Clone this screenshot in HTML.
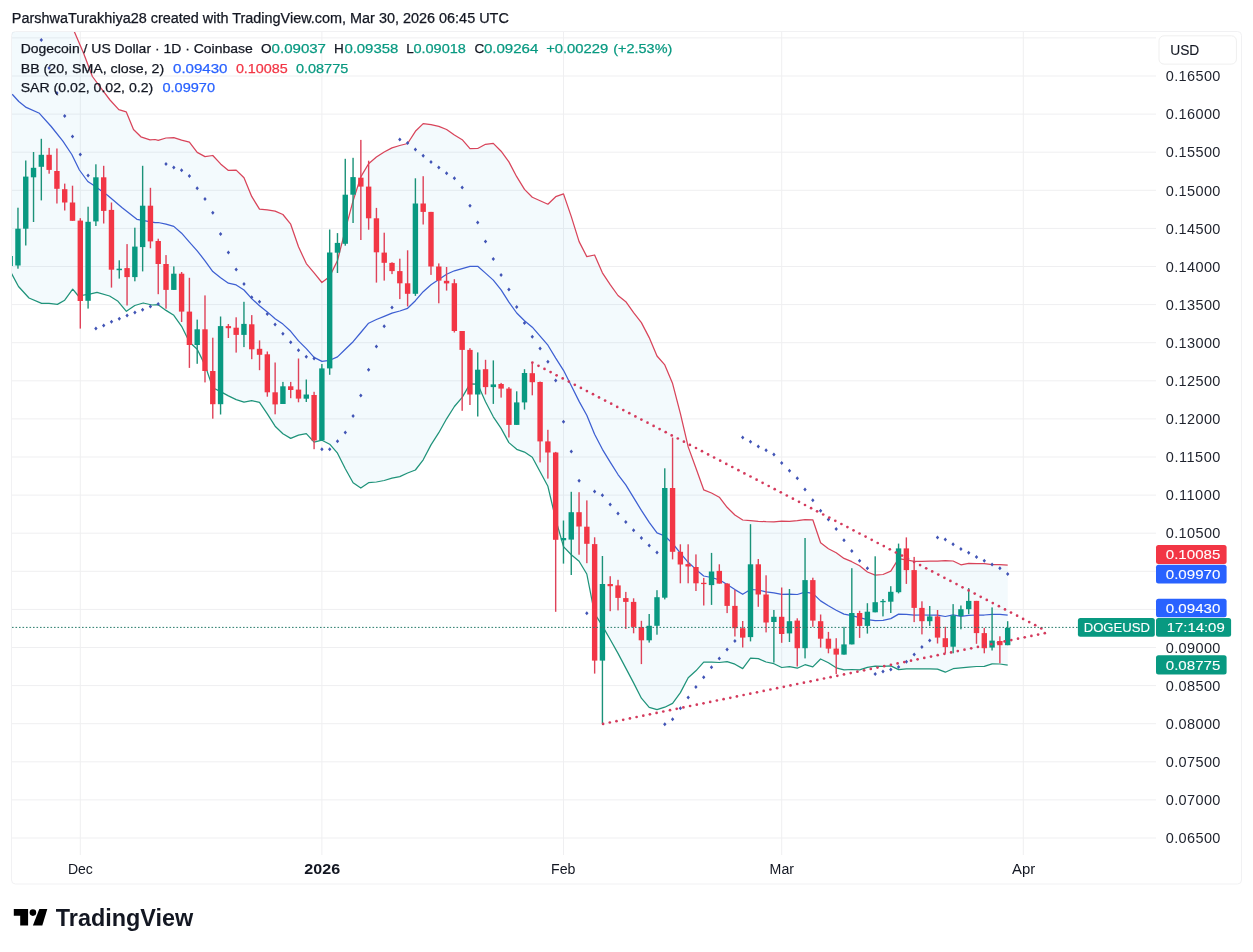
<!DOCTYPE html><html><head><meta charset="utf-8"><title>DOGEUSD</title><style>html,body{margin:0;padding:0;background:#ffffff;overflow:hidden}svg{display:block;will-change:transform}text{font-family:"Liberation Sans",sans-serif}</style></head><body>
<svg width="1253" height="952" viewBox="0 0 1253 952">
<rect x="0" y="0" width="1253" height="952" fill="#ffffff"/>
<text x="11.8" y="22.8" font-size="14" fill="#131722" stroke="#131722" stroke-width="0.25" textLength="497" lengthAdjust="spacingAndGlyphs">ParshwaTurakhiya28 created with TradingView.com, Mar 30, 2026 06:45 UTC</text>
<rect x="11.5" y="31.5" width="1230" height="852.5" rx="4" ry="4" fill="#ffffff" stroke="#f1f1f3" stroke-width="1"/>
<defs><clipPath id="pane"><rect x="12" y="32" width="1143" height="819"/></clipPath></defs>
<path d="M12,37.9H1156 M12,76.0H1156 M12,114.1H1156 M12,152.2H1156 M12,190.3H1156 M12,228.4H1156 M12,266.5H1156 M12,304.6H1156 M12,342.7H1156 M12,380.8H1156 M12,418.9H1156 M12,457.0H1156 M12,495.1H1156 M12,533.2H1156 M12,571.3H1156 M12,609.4H1156 M12,647.5H1156 M12,685.6H1156 M12,723.7H1156 M12,761.8H1156 M12,799.9H1156 M12,838.0H1156 M80.3,32V855 M321.9,32V855 M563.5,32V855 M781.7,32V855 M1023.3,32V855" stroke="#efeff1" stroke-width="1" fill="none"/>
<g clip-path="url(#pane)">
<path d="M11.0,20.0 L74.0,30.9 L83.5,53.0 L92.4,76.5 L101.2,88.3 L110.0,100.0 L118.8,109.6 L126.2,111.8 L133.5,129.5 L140.9,136.8 L150.0,139.8 L155.1,139.5 L158.2,140.3 L166.0,138.0 L173.8,137.6 L181.6,140.1 L189.4,142.1 L197.2,152.4 L205.0,156.6 L212.8,155.5 L220.6,163.9 L228.4,170.4 L236.2,170.1 L244.0,177.8 L251.7,196.4 L259.5,209.2 L267.3,209.8 L275.1,211.1 L282.9,214.5 L290.7,224.2 L298.5,246.8 L306.3,263.6 L314.1,272.8 L321.9,282.5 L329.7,276.4 L337.5,260.5 L345.3,229.8 L353.1,200.7 L360.8,176.9 L368.6,163.7 L376.4,157.1 L384.2,152.0 L392.0,147.9 L399.8,145.5 L407.6,143.5 L415.4,131.3 L423.2,123.6 L431.0,124.6 L438.8,126.3 L446.6,129.5 L454.4,135.0 L462.2,139.7 L470.0,148.6 L477.7,148.5 L485.5,144.3 L493.3,143.4 L501.1,151.2 L508.9,161.9 L516.7,176.7 L524.5,189.4 L532.3,197.2 L540.1,200.7 L547.9,204.2 L555.7,196.7 L563.5,193.9 L571.3,216.6 L579.1,241.6 L586.8,256.6 L594.6,255.0 L602.4,272.8 L610.2,284.7 L618.0,295.5 L625.8,301.7 L633.6,312.6 L641.4,322.6 L649.2,337.6 L657.0,356.0 L664.8,364.9 L672.6,383.6 L680.4,413.6 L688.2,446.9 L695.9,468.0 L703.7,489.8 L711.5,493.0 L719.3,497.2 L727.1,507.3 L734.9,515.0 L742.7,520.0 L750.5,520.7 L758.3,521.3 L766.1,521.7 L773.9,521.8 L781.7,521.2 L789.5,521.4 L797.3,520.7 L805.0,519.6 L812.8,519.8 L820.6,542.8 L828.4,548.7 L836.2,552.7 L844.0,558.4 L851.8,561.7 L859.6,565.7 L867.4,572.0 L875.2,575.1 L883.0,574.5 L890.8,571.2 L898.6,558.7 L906.4,559.9 L914.2,561.3 L921.9,561.3 L929.7,561.2 L937.5,561.1 L945.3,560.7 L953.1,561.0 L960.9,564.8 L968.7,563.4 L976.5,563.6 L984.3,563.6 L992.1,564.7 L999.9,564.7 L1007.7,565.1 L1007.7,665.1 L999.9,664.0 L992.1,663.9 L984.3,666.4 L976.5,666.5 L968.7,667.2 L960.9,667.8 L953.1,668.7 L945.3,672.2 L937.5,669.2 L929.7,668.8 L921.9,668.8 L914.2,668.9 L906.4,668.9 L898.6,669.6 L890.8,665.9 L883.0,666.3 L875.2,666.2 L867.4,667.4 L859.6,669.8 L851.8,669.5 L844.0,669.8 L836.2,667.8 L828.4,662.8 L820.6,659.0 L812.8,666.9 L805.0,664.7 L797.3,668.2 L789.5,666.7 L781.7,667.5 L773.9,663.7 L766.1,662.0 L758.3,658.7 L750.5,658.2 L742.7,668.6 L734.9,664.2 L727.1,661.7 L719.3,662.5 L711.5,662.1 L703.7,662.1 L695.9,670.8 L688.2,677.7 L680.4,692.6 L672.6,703.4 L664.8,707.2 L657.0,709.7 L649.2,707.3 L641.4,698.2 L633.6,682.9 L625.8,668.1 L618.0,653.4 L610.2,639.5 L602.4,625.9 L594.6,613.6 L586.8,574.0 L579.1,561.3 L571.3,554.8 L563.5,546.6 L555.7,519.4 L547.9,486.3 L540.1,471.7 L532.3,457.2 L524.5,452.1 L516.7,449.3 L508.9,442.6 L501.1,428.4 L493.3,416.8 L485.5,401.8 L477.7,384.2 L470.0,383.9 L462.2,397.4 L454.4,406.5 L446.6,418.8 L438.8,432.7 L431.0,444.9 L423.2,459.8 L415.4,470.0 L407.6,473.0 L399.8,476.6 L392.0,478.2 L384.2,480.5 L376.4,482.0 L368.6,482.7 L360.8,488.1 L353.1,482.8 L345.3,468.8 L337.5,453.2 L329.7,444.2 L321.9,440.2 L314.1,442.1 L306.3,433.6 L298.5,435.1 L290.7,438.4 L282.9,433.8 L275.1,426.2 L267.3,413.9 L259.5,402.3 L251.7,400.7 L244.0,402.1 L236.2,399.6 L228.4,395.9 L220.6,391.6 L212.8,387.7 L205.0,365.1 L197.2,349.2 L189.4,342.0 L181.6,326.3 L173.8,315.3 L166.0,310.4 L158.2,304.7 L152.0,305.0 L143.2,303.0 L134.8,305.5 L126.4,311.3 L118.0,301.3 L109.6,296.0 L97.0,292.4 L90.7,293.9 L78.4,296.0 L72.7,289.2 L64.7,300.2 L57.4,304.4 L49.0,303.3 L41.6,303.3 L29.0,298.0 L18.5,286.5 L11.2,272.9 Z" fill="#0f9bd7" fill-opacity="0.05" stroke="none"/>
<polyline points="74.0,30.9 83.5,53.0 92.4,76.5 101.2,88.3 110.0,100.0 118.8,109.6 126.2,111.8 133.5,129.5 140.9,136.8 150.0,139.8 155.1,139.5 158.2,140.3 166.0,138.0 173.8,137.6 181.6,140.1 189.4,142.1 197.2,152.4 205.0,156.6 212.8,155.5 220.6,163.9 228.4,170.4 236.2,170.1 244.0,177.8 251.7,196.4 259.5,209.2 267.3,209.8 275.1,211.1 282.9,214.5 290.7,224.2 298.5,246.8 306.3,263.6 314.1,272.8 321.9,282.5 329.7,276.4 337.5,260.5 345.3,229.8 353.1,200.7 360.8,176.9 368.6,163.7 376.4,157.1 384.2,152.0 392.0,147.9 399.8,145.5 407.6,143.5 415.4,131.3 423.2,123.6 431.0,124.6 438.8,126.3 446.6,129.5 454.4,135.0 462.2,139.7 470.0,148.6 477.7,148.5 485.5,144.3 493.3,143.4 501.1,151.2 508.9,161.9 516.7,176.7 524.5,189.4 532.3,197.2 540.1,200.7 547.9,204.2 555.7,196.7 563.5,193.9 571.3,216.6 579.1,241.6 586.8,256.6 594.6,255.0 602.4,272.8 610.2,284.7 618.0,295.5 625.8,301.7 633.6,312.6 641.4,322.6 649.2,337.6 657.0,356.0 664.8,364.9 672.6,383.6 680.4,413.6 688.2,446.9 695.9,468.0 703.7,489.8 711.5,493.0 719.3,497.2 727.1,507.3 734.9,515.0 742.7,520.0 750.5,520.7 758.3,521.3 766.1,521.7 773.9,521.8 781.7,521.2 789.5,521.4 797.3,520.7 805.0,519.6 812.8,519.8 820.6,542.8 828.4,548.7 836.2,552.7 844.0,558.4 851.8,561.7 859.6,565.7 867.4,572.0 875.2,575.1 883.0,574.5 890.8,571.2 898.6,558.7 906.4,559.9 914.2,561.3 921.9,561.3 929.7,561.2 937.5,561.1 945.3,560.7 953.1,561.0 960.9,564.8 968.7,563.4 976.5,563.6 984.3,563.6 992.1,564.7 999.9,564.7 1007.7,565.1" fill="none" stroke="#d8445a" stroke-width="1.25" stroke-linejoin="round"/>
<polyline points="11.2,272.9 18.5,286.5 29.0,298.0 41.6,303.3 49.0,303.3 57.4,304.4 64.7,300.2 72.7,289.2 78.4,296.0 90.7,293.9 97.0,292.4 109.6,296.0 118.0,301.3 126.4,311.3 134.8,305.5 143.2,303.0 152.0,305.0 158.2,304.7 166.0,310.4 173.8,315.3 181.6,326.3 189.4,342.0 197.2,349.2 205.0,365.1 212.8,387.7 220.6,391.6 228.4,395.9 236.2,399.6 244.0,402.1 251.7,400.7 259.5,402.3 267.3,413.9 275.1,426.2 282.9,433.8 290.7,438.4 298.5,435.1 306.3,433.6 314.1,442.1 321.9,440.2 329.7,444.2 337.5,453.2 345.3,468.8 353.1,482.8 360.8,488.1 368.6,482.7 376.4,482.0 384.2,480.5 392.0,478.2 399.8,476.6 407.6,473.0 415.4,470.0 423.2,459.8 431.0,444.9 438.8,432.7 446.6,418.8 454.4,406.5 462.2,397.4 470.0,383.9 477.7,384.2 485.5,401.8 493.3,416.8 501.1,428.4 508.9,442.6 516.7,449.3 524.5,452.1 532.3,457.2 540.1,471.7 547.9,486.3 555.7,519.4 563.5,546.6 571.3,554.8 579.1,561.3 586.8,574.0 594.6,613.6 602.4,625.9 610.2,639.5 618.0,653.4 625.8,668.1 633.6,682.9 641.4,698.2 649.2,707.3 657.0,709.7 664.8,707.2 672.6,703.4 680.4,692.6 688.2,677.7 695.9,670.8 703.7,662.1 711.5,662.1 719.3,662.5 727.1,661.7 734.9,664.2 742.7,668.6 750.5,658.2 758.3,658.7 766.1,662.0 773.9,663.7 781.7,667.5 789.5,666.7 797.3,668.2 805.0,664.7 812.8,666.9 820.6,659.0 828.4,662.8 836.2,667.8 844.0,669.8 851.8,669.5 859.6,669.8 867.4,667.4 875.2,666.2 883.0,666.3 890.8,665.9 898.6,669.6 906.4,668.9 914.2,668.9 921.9,668.8 929.7,668.8 937.5,669.2 945.3,672.2 953.1,668.7 960.9,667.8 968.7,667.2 976.5,666.5 984.3,666.4 992.1,663.9 999.9,664.0 1007.7,665.1" fill="none" stroke="#1f937a" stroke-width="1.25" stroke-linejoin="round"/>
<polyline points="12.2,94.2 18.8,101.5 26.2,107.4 39.4,113.3 51.2,126.5 62.9,141.2 71.8,154.5 79.4,170.0 87.8,181.5 92.8,184.7 107.5,195.2 122.2,207.8 136.9,219.3 155.1,222.6 158.2,222.5 166.0,224.2 173.8,226.4 181.6,233.2 189.4,242.1 197.2,250.8 205.0,260.8 212.8,271.6 220.6,277.8 228.4,283.2 236.2,284.9 244.0,290.0 251.7,298.6 259.5,305.8 267.3,311.9 275.1,318.7 282.9,324.1 290.7,331.3 298.5,340.9 306.3,348.6 314.1,357.4 321.9,361.4 329.7,360.3 337.5,356.9 345.3,349.3 353.1,341.7 360.8,332.5 368.6,323.2 376.4,319.5 384.2,316.3 392.0,313.1 399.8,311.0 407.6,308.3 415.4,300.7 423.2,291.7 431.0,284.8 438.8,279.5 446.6,274.2 454.4,270.8 462.2,268.6 470.0,266.3 477.7,266.3 485.5,273.1 493.3,280.1 501.1,289.8 508.9,302.2 516.7,313.0 524.5,320.7 532.3,327.2 540.1,336.2 547.9,345.2 555.7,358.1 563.5,370.3 571.3,385.7 579.1,401.4 586.8,415.3 594.6,434.3 602.4,449.3 610.2,462.1 618.0,474.5 625.8,484.9 633.6,497.7 641.4,510.4 649.2,522.4 657.0,532.9 664.8,536.0 672.6,543.5 680.4,553.1 688.2,562.3 695.9,569.4 703.7,576.0 711.5,577.5 719.3,579.8 727.1,584.5 734.9,589.6 742.7,594.3 750.5,589.5 758.3,590.0 766.1,591.8 773.9,592.8 781.7,594.4 789.5,594.1 797.3,594.5 805.0,592.2 812.8,593.4 820.6,600.9 828.4,605.7 836.2,610.2 844.0,614.1 851.8,615.6 859.6,617.7 867.4,619.7 875.2,620.7 883.0,620.4 890.8,618.6 898.6,614.1 906.4,614.4 914.2,615.1 921.9,615.0 929.7,615.0 937.5,615.2 945.3,616.5 953.1,614.8 960.9,616.3 968.7,615.3 976.5,615.0 984.3,615.0 992.1,614.3 999.9,614.3 1007.7,615.1" fill="none" stroke="#3d5fd2" stroke-width="1.25" stroke-linejoin="round"/>
<rect x="9.46" y="252.0" width="1.4" height="18.0" fill="#1b9279"/>
<rect x="7.46" y="256.0" width="5.4" height="10.0" fill="#089981"/>
<rect x="17.26" y="207.7" width="1.4" height="61.0" fill="#1b9279"/>
<rect x="15.26" y="228.7" width="5.4" height="36.8" fill="#089981"/>
<rect x="25.05" y="160.5" width="1.4" height="85.0" fill="#1b9279"/>
<rect x="23.05" y="176.6" width="5.4" height="52.1" fill="#089981"/>
<rect x="32.84" y="152.0" width="1.4" height="70.0" fill="#1b9279"/>
<rect x="30.84" y="167.8" width="5.4" height="9.5" fill="#089981"/>
<rect x="40.63" y="138.8" width="1.4" height="61.6" fill="#1b9279"/>
<rect x="38.63" y="154.8" width="5.4" height="12.0" fill="#089981"/>
<rect x="48.43" y="147.9" width="1.4" height="25.8" fill="#df4259"/>
<rect x="46.43" y="154.8" width="5.4" height="15.1" fill="#f23645"/>
<rect x="56.22" y="148.5" width="1.4" height="55.0" fill="#df4259"/>
<rect x="54.22" y="171.0" width="5.4" height="17.8" fill="#f23645"/>
<rect x="64.01" y="183.6" width="1.4" height="26.9" fill="#df4259"/>
<rect x="62.01" y="189.2" width="5.4" height="13.3" fill="#f23645"/>
<rect x="71.81" y="185.7" width="1.4" height="35.1" fill="#df4259"/>
<rect x="69.81" y="202.5" width="5.4" height="18.3" fill="#f23645"/>
<rect x="79.60" y="218.2" width="1.4" height="110.4" fill="#df4259"/>
<rect x="77.60" y="220.6" width="5.4" height="80.4" fill="#f23645"/>
<rect x="87.39" y="206.7" width="1.4" height="101.9" fill="#1b9279"/>
<rect x="85.39" y="221.8" width="5.4" height="79.0" fill="#089981"/>
<rect x="95.19" y="164.3" width="1.4" height="61.7" fill="#1b9279"/>
<rect x="93.19" y="177.3" width="5.4" height="44.1" fill="#089981"/>
<rect x="102.98" y="165.8" width="1.4" height="57.7" fill="#df4259"/>
<rect x="100.98" y="177.3" width="5.4" height="33.6" fill="#f23645"/>
<rect x="110.77" y="202.5" width="1.4" height="85.1" fill="#df4259"/>
<rect x="108.77" y="209.9" width="5.4" height="59.8" fill="#f23645"/>
<rect x="118.56" y="260.3" width="1.4" height="18.3" fill="#1b9279"/>
<rect x="116.56" y="268.7" width="5.4" height="1.5" fill="#089981"/>
<rect x="126.36" y="244.1" width="1.4" height="61.4" fill="#df4259"/>
<rect x="124.36" y="268.1" width="5.4" height="9.0" fill="#f23645"/>
<rect x="134.15" y="227.7" width="1.4" height="53.6" fill="#1b9279"/>
<rect x="132.15" y="246.6" width="5.4" height="30.5" fill="#089981"/>
<rect x="141.94" y="165.8" width="1.4" height="105.6" fill="#1b9279"/>
<rect x="139.94" y="205.7" width="5.4" height="41.4" fill="#089981"/>
<rect x="149.74" y="187.8" width="1.4" height="60.5" fill="#df4259"/>
<rect x="147.74" y="205.7" width="5.4" height="35.7" fill="#f23645"/>
<rect x="157.53" y="238.7" width="1.4" height="55.5" fill="#df4259"/>
<rect x="155.53" y="241.0" width="5.4" height="23.0" fill="#f23645"/>
<rect x="165.32" y="255.1" width="1.4" height="53.6" fill="#df4259"/>
<rect x="163.32" y="264.0" width="5.4" height="25.9" fill="#f23645"/>
<rect x="173.12" y="266.4" width="1.4" height="23.5" fill="#1b9279"/>
<rect x="171.12" y="273.7" width="5.4" height="16.2" fill="#089981"/>
<rect x="180.91" y="272.0" width="1.4" height="50.0" fill="#df4259"/>
<rect x="178.91" y="273.7" width="5.4" height="37.9" fill="#f23645"/>
<rect x="188.70" y="277.8" width="1.4" height="90.1" fill="#df4259"/>
<rect x="186.70" y="311.6" width="5.4" height="33.4" fill="#f23645"/>
<rect x="196.50" y="319.6" width="1.4" height="44.2" fill="#1b9279"/>
<rect x="194.50" y="329.3" width="5.4" height="15.7" fill="#089981"/>
<rect x="204.29" y="295.4" width="1.4" height="87.0" fill="#df4259"/>
<rect x="202.29" y="329.3" width="5.4" height="41.7" fill="#f23645"/>
<rect x="212.08" y="337.7" width="1.4" height="81.0" fill="#df4259"/>
<rect x="210.08" y="371.0" width="5.4" height="33.2" fill="#f23645"/>
<rect x="219.87" y="316.5" width="1.4" height="98.0" fill="#1b9279"/>
<rect x="217.87" y="326.1" width="5.4" height="78.1" fill="#089981"/>
<rect x="227.67" y="324.0" width="1.4" height="14.0" fill="#df4259"/>
<rect x="225.67" y="326.1" width="5.4" height="2.1" fill="#f23645"/>
<rect x="235.46" y="317.3" width="1.4" height="35.3" fill="#df4259"/>
<rect x="233.46" y="327.7" width="5.4" height="7.2" fill="#f23645"/>
<rect x="243.25" y="301.8" width="1.4" height="45.3" fill="#1b9279"/>
<rect x="241.25" y="323.9" width="5.4" height="11.0" fill="#089981"/>
<rect x="251.05" y="315.1" width="1.4" height="44.1" fill="#df4259"/>
<rect x="249.05" y="324.3" width="5.4" height="25.0" fill="#f23645"/>
<rect x="258.84" y="340.4" width="1.4" height="29.8" fill="#df4259"/>
<rect x="256.84" y="348.8" width="5.4" height="6.0" fill="#f23645"/>
<rect x="266.63" y="351.5" width="1.4" height="45.2" fill="#df4259"/>
<rect x="264.63" y="354.3" width="5.4" height="38.0" fill="#f23645"/>
<rect x="274.43" y="362.5" width="1.4" height="51.8" fill="#df4259"/>
<rect x="272.43" y="392.3" width="5.4" height="12.1" fill="#f23645"/>
<rect x="282.22" y="381.9" width="1.4" height="22.1" fill="#1b9279"/>
<rect x="280.22" y="386.3" width="5.4" height="17.7" fill="#089981"/>
<rect x="290.01" y="381.9" width="1.4" height="16.3" fill="#df4259"/>
<rect x="288.01" y="386.3" width="5.4" height="3.7" fill="#f23645"/>
<rect x="297.80" y="358.5" width="1.4" height="43.8" fill="#df4259"/>
<rect x="295.80" y="389.6" width="5.4" height="9.0" fill="#f23645"/>
<rect x="305.60" y="379.5" width="1.4" height="22.5" fill="#1b9279"/>
<rect x="303.60" y="394.5" width="5.4" height="4.2" fill="#089981"/>
<rect x="313.39" y="391.8" width="1.4" height="57.4" fill="#df4259"/>
<rect x="311.39" y="395.0" width="5.4" height="45.5" fill="#f23645"/>
<rect x="321.18" y="364.0" width="1.4" height="76.3" fill="#1b9279"/>
<rect x="319.18" y="368.4" width="5.4" height="71.9" fill="#089981"/>
<rect x="328.98" y="229.5" width="1.4" height="145.3" fill="#1b9279"/>
<rect x="326.98" y="252.5" width="5.4" height="115.9" fill="#089981"/>
<rect x="336.77" y="233.1" width="1.4" height="39.9" fill="#1b9279"/>
<rect x="334.77" y="242.9" width="5.4" height="9.8" fill="#089981"/>
<rect x="344.56" y="158.8" width="1.4" height="86.9" fill="#1b9279"/>
<rect x="342.56" y="194.7" width="5.4" height="49.1" fill="#089981"/>
<rect x="352.36" y="157.8" width="1.4" height="65.2" fill="#1b9279"/>
<rect x="350.36" y="177.1" width="5.4" height="17.6" fill="#089981"/>
<rect x="360.15" y="139.9" width="1.4" height="100.1" fill="#df4259"/>
<rect x="358.15" y="177.7" width="5.4" height="8.9" fill="#f23645"/>
<rect x="367.94" y="160.7" width="1.4" height="69.0" fill="#df4259"/>
<rect x="365.94" y="186.6" width="5.4" height="31.7" fill="#f23645"/>
<rect x="375.73" y="207.9" width="1.4" height="74.7" fill="#df4259"/>
<rect x="373.73" y="218.3" width="5.4" height="34.0" fill="#f23645"/>
<rect x="383.53" y="232.7" width="1.4" height="47.9" fill="#df4259"/>
<rect x="381.53" y="252.6" width="5.4" height="10.2" fill="#f23645"/>
<rect x="391.32" y="262.3" width="1.4" height="11.8" fill="#df4259"/>
<rect x="389.32" y="262.9" width="5.4" height="8.2" fill="#f23645"/>
<rect x="399.11" y="258.7" width="1.4" height="40.4" fill="#df4259"/>
<rect x="397.11" y="271.1" width="5.4" height="12.2" fill="#f23645"/>
<rect x="406.91" y="250.3" width="1.4" height="56.1" fill="#df4259"/>
<rect x="404.91" y="283.3" width="5.4" height="10.5" fill="#f23645"/>
<rect x="414.70" y="178.3" width="1.4" height="117.6" fill="#1b9279"/>
<rect x="412.70" y="203.5" width="5.4" height="90.3" fill="#089981"/>
<rect x="422.49" y="176.2" width="1.4" height="48.3" fill="#df4259"/>
<rect x="420.49" y="203.5" width="5.4" height="8.4" fill="#f23645"/>
<rect x="430.29" y="211.9" width="1.4" height="63.0" fill="#df4259"/>
<rect x="428.29" y="211.9" width="5.4" height="54.6" fill="#f23645"/>
<rect x="438.08" y="263.4" width="1.4" height="39.9" fill="#df4259"/>
<rect x="436.08" y="266.5" width="5.4" height="14.1" fill="#f23645"/>
<rect x="445.87" y="267.0" width="1.4" height="23.6" fill="#df4259"/>
<rect x="443.87" y="280.8" width="5.4" height="2.6" fill="#f23645"/>
<rect x="453.66" y="279.2" width="1.4" height="53.3" fill="#df4259"/>
<rect x="451.66" y="283.2" width="5.4" height="47.8" fill="#f23645"/>
<rect x="461.46" y="331.0" width="1.4" height="79.8" fill="#df4259"/>
<rect x="459.46" y="331.0" width="5.4" height="18.9" fill="#f23645"/>
<rect x="469.25" y="348.2" width="1.4" height="56.8" fill="#df4259"/>
<rect x="467.25" y="349.9" width="5.4" height="44.6" fill="#f23645"/>
<rect x="477.04" y="352.4" width="1.4" height="64.1" fill="#1b9279"/>
<rect x="475.04" y="369.7" width="5.4" height="24.8" fill="#089981"/>
<rect x="484.84" y="359.8" width="1.4" height="34.7" fill="#df4259"/>
<rect x="482.84" y="369.2" width="5.4" height="17.9" fill="#f23645"/>
<rect x="492.63" y="360.4" width="1.4" height="43.5" fill="#1b9279"/>
<rect x="490.63" y="384.4" width="5.4" height="2.7" fill="#089981"/>
<rect x="500.42" y="382.9" width="1.4" height="14.7" fill="#df4259"/>
<rect x="498.42" y="384.0" width="5.4" height="4.6" fill="#f23645"/>
<rect x="508.22" y="387.1" width="1.4" height="50.4" fill="#df4259"/>
<rect x="506.22" y="388.6" width="5.4" height="36.3" fill="#f23645"/>
<rect x="516.01" y="391.3" width="1.4" height="33.6" fill="#1b9279"/>
<rect x="514.01" y="402.4" width="5.4" height="22.5" fill="#089981"/>
<rect x="523.80" y="369.2" width="1.4" height="40.4" fill="#1b9279"/>
<rect x="521.80" y="373.0" width="5.4" height="29.4" fill="#089981"/>
<rect x="531.59" y="362.2" width="1.4" height="33.1" fill="#df4259"/>
<rect x="529.59" y="373.2" width="5.4" height="9.0" fill="#f23645"/>
<rect x="539.39" y="381.5" width="1.4" height="80.9" fill="#df4259"/>
<rect x="537.39" y="382.0" width="5.4" height="59.4" fill="#f23645"/>
<rect x="547.18" y="429.8" width="1.4" height="48.8" fill="#df4259"/>
<rect x="545.18" y="441.4" width="5.4" height="11.1" fill="#f23645"/>
<rect x="554.97" y="451.9" width="1.4" height="159.9" fill="#df4259"/>
<rect x="552.97" y="452.5" width="5.4" height="87.3" fill="#f23645"/>
<rect x="562.77" y="520.5" width="1.4" height="43.1" fill="#1b9279"/>
<rect x="560.77" y="538.0" width="5.4" height="2.3" fill="#089981"/>
<rect x="570.56" y="491.8" width="1.4" height="83.2" fill="#1b9279"/>
<rect x="568.56" y="512.2" width="5.4" height="27.4" fill="#089981"/>
<rect x="578.35" y="492.2" width="1.4" height="62.5" fill="#df4259"/>
<rect x="576.35" y="512.2" width="5.4" height="14.3" fill="#f23645"/>
<rect x="586.14" y="500.4" width="1.4" height="62.8" fill="#df4259"/>
<rect x="584.14" y="526.7" width="5.4" height="17.1" fill="#f23645"/>
<rect x="593.94" y="537.3" width="1.4" height="136.3" fill="#df4259"/>
<rect x="591.94" y="544.1" width="5.4" height="116.5" fill="#f23645"/>
<rect x="601.73" y="556.0" width="1.4" height="167.8" fill="#1b9279"/>
<rect x="599.73" y="584.0" width="5.4" height="76.6" fill="#089981"/>
<rect x="609.52" y="576.2" width="1.4" height="35.0" fill="#df4259"/>
<rect x="607.52" y="584.0" width="5.4" height="2.2" fill="#f23645"/>
<rect x="617.32" y="579.8" width="1.4" height="30.6" fill="#df4259"/>
<rect x="615.32" y="585.4" width="5.4" height="12.5" fill="#f23645"/>
<rect x="625.11" y="591.9" width="1.4" height="37.1" fill="#df4259"/>
<rect x="623.11" y="598.1" width="5.4" height="3.8" fill="#f23645"/>
<rect x="632.90" y="598.3" width="1.4" height="35.0" fill="#df4259"/>
<rect x="630.90" y="601.9" width="5.4" height="25.0" fill="#f23645"/>
<rect x="640.70" y="620.8" width="1.4" height="43.3" fill="#df4259"/>
<rect x="638.70" y="627.1" width="5.4" height="13.2" fill="#f23645"/>
<rect x="648.49" y="614.0" width="1.4" height="28.6" fill="#1b9279"/>
<rect x="646.49" y="625.8" width="5.4" height="14.5" fill="#089981"/>
<rect x="656.28" y="590.2" width="1.4" height="44.5" fill="#1b9279"/>
<rect x="654.28" y="597.2" width="5.4" height="28.6" fill="#089981"/>
<rect x="664.07" y="468.3" width="1.4" height="131.1" fill="#1b9279"/>
<rect x="662.07" y="488.0" width="5.4" height="109.7" fill="#089981"/>
<rect x="671.87" y="437.6" width="1.4" height="121.8" fill="#df4259"/>
<rect x="669.87" y="488.0" width="5.4" height="63.8" fill="#f23645"/>
<rect x="679.66" y="544.3" width="1.4" height="39.0" fill="#df4259"/>
<rect x="677.66" y="551.8" width="5.4" height="12.7" fill="#f23645"/>
<rect x="687.45" y="544.3" width="1.4" height="39.0" fill="#df4259"/>
<rect x="685.45" y="564.1" width="5.4" height="2.4" fill="#f23645"/>
<rect x="695.25" y="554.4" width="1.4" height="36.6" fill="#df4259"/>
<rect x="693.25" y="567.0" width="5.4" height="16.3" fill="#f23645"/>
<rect x="703.04" y="577.9" width="1.4" height="27.6" fill="#df4259"/>
<rect x="701.04" y="582.8" width="5.4" height="1.3" fill="#f23645"/>
<rect x="710.83" y="552.9" width="1.4" height="52.0" fill="#1b9279"/>
<rect x="708.83" y="571.5" width="5.4" height="13.6" fill="#089981"/>
<rect x="718.63" y="564.3" width="1.4" height="19.3" fill="#df4259"/>
<rect x="716.63" y="570.9" width="5.4" height="12.7" fill="#f23645"/>
<rect x="726.42" y="583.2" width="1.4" height="29.9" fill="#df4259"/>
<rect x="724.42" y="583.6" width="5.4" height="22.3" fill="#f23645"/>
<rect x="734.21" y="589.8" width="1.4" height="46.7" fill="#df4259"/>
<rect x="732.21" y="605.9" width="5.4" height="22.3" fill="#f23645"/>
<rect x="742.00" y="621.0" width="1.4" height="26.5" fill="#df4259"/>
<rect x="740.00" y="628.2" width="5.4" height="9.4" fill="#f23645"/>
<rect x="749.80" y="524.2" width="1.4" height="117.2" fill="#1b9279"/>
<rect x="747.80" y="564.3" width="5.4" height="72.8" fill="#089981"/>
<rect x="757.59" y="559.0" width="1.4" height="47.8" fill="#df4259"/>
<rect x="755.59" y="564.3" width="5.4" height="30.2" fill="#f23645"/>
<rect x="765.38" y="575.3" width="1.4" height="57.1" fill="#df4259"/>
<rect x="763.38" y="594.5" width="5.4" height="28.0" fill="#f23645"/>
<rect x="773.18" y="610.0" width="1.4" height="52.6" fill="#1b9279"/>
<rect x="771.18" y="616.8" width="5.4" height="5.2" fill="#089981"/>
<rect x="780.97" y="587.5" width="1.4" height="55.3" fill="#df4259"/>
<rect x="778.97" y="616.8" width="5.4" height="17.2" fill="#f23645"/>
<rect x="788.76" y="589.0" width="1.4" height="53.0" fill="#1b9279"/>
<rect x="786.76" y="621.2" width="5.4" height="12.2" fill="#089981"/>
<rect x="796.56" y="618.3" width="1.4" height="48.2" fill="#df4259"/>
<rect x="794.56" y="620.6" width="5.4" height="27.6" fill="#f23645"/>
<rect x="804.35" y="538.0" width="1.4" height="120.4" fill="#1b9279"/>
<rect x="802.35" y="580.1" width="5.4" height="68.1" fill="#089981"/>
<rect x="812.14" y="577.7" width="1.4" height="49.1" fill="#df4259"/>
<rect x="810.14" y="580.1" width="5.4" height="40.5" fill="#f23645"/>
<rect x="819.93" y="614.5" width="1.4" height="33.1" fill="#df4259"/>
<rect x="817.93" y="621.2" width="5.4" height="17.5" fill="#f23645"/>
<rect x="827.73" y="631.9" width="1.4" height="21.4" fill="#df4259"/>
<rect x="825.73" y="638.7" width="5.4" height="9.9" fill="#f23645"/>
<rect x="835.52" y="638.2" width="1.4" height="35.9" fill="#df4259"/>
<rect x="833.52" y="648.6" width="5.4" height="6.0" fill="#f23645"/>
<rect x="843.31" y="626.8" width="1.4" height="27.8" fill="#1b9279"/>
<rect x="841.31" y="644.4" width="5.4" height="10.2" fill="#089981"/>
<rect x="851.11" y="568.2" width="1.4" height="76.2" fill="#1b9279"/>
<rect x="849.11" y="613.0" width="5.4" height="31.4" fill="#089981"/>
<rect x="858.90" y="610.8" width="1.4" height="27.1" fill="#df4259"/>
<rect x="856.90" y="613.0" width="5.4" height="12.9" fill="#f23645"/>
<rect x="866.69" y="603.2" width="1.4" height="30.4" fill="#1b9279"/>
<rect x="864.69" y="611.7" width="5.4" height="14.2" fill="#089981"/>
<rect x="874.49" y="556.3" width="1.4" height="56.0" fill="#1b9279"/>
<rect x="872.49" y="602.2" width="5.4" height="10.1" fill="#089981"/>
<rect x="882.28" y="599.0" width="1.4" height="17.4" fill="#1b9279"/>
<rect x="880.28" y="600.9" width="5.4" height="1.3" fill="#089981"/>
<rect x="890.07" y="586.2" width="1.4" height="26.8" fill="#1b9279"/>
<rect x="888.07" y="591.8" width="5.4" height="9.9" fill="#089981"/>
<rect x="897.86" y="543.6" width="1.4" height="49.8" fill="#1b9279"/>
<rect x="895.86" y="548.4" width="5.4" height="43.8" fill="#089981"/>
<rect x="905.66" y="537.4" width="1.4" height="46.5" fill="#df4259"/>
<rect x="903.66" y="548.4" width="5.4" height="21.7" fill="#f23645"/>
<rect x="913.45" y="556.9" width="1.4" height="65.2" fill="#df4259"/>
<rect x="911.45" y="570.1" width="5.4" height="37.8" fill="#f23645"/>
<rect x="921.24" y="601.3" width="1.4" height="33.1" fill="#df4259"/>
<rect x="919.24" y="607.9" width="5.4" height="13.3" fill="#f23645"/>
<rect x="929.04" y="606.0" width="1.4" height="19.9" fill="#1b9279"/>
<rect x="927.04" y="616.4" width="5.4" height="4.8" fill="#089981"/>
<rect x="936.83" y="610.0" width="1.4" height="33.5" fill="#df4259"/>
<rect x="934.83" y="616.4" width="5.4" height="21.2" fill="#f23645"/>
<rect x="944.62" y="626.8" width="1.4" height="26.5" fill="#df4259"/>
<rect x="942.62" y="638.2" width="5.4" height="8.9" fill="#f23645"/>
<rect x="952.42" y="604.1" width="1.4" height="49.2" fill="#1b9279"/>
<rect x="950.42" y="615.5" width="5.4" height="31.2" fill="#089981"/>
<rect x="960.21" y="605.5" width="1.4" height="23.8" fill="#1b9279"/>
<rect x="958.21" y="609.2" width="5.4" height="6.8" fill="#089981"/>
<rect x="968.00" y="588.1" width="1.4" height="26.1" fill="#1b9279"/>
<rect x="966.00" y="600.9" width="5.4" height="8.3" fill="#089981"/>
<rect x="975.79" y="600.9" width="1.4" height="42.9" fill="#df4259"/>
<rect x="973.79" y="600.9" width="5.4" height="32.2" fill="#f23645"/>
<rect x="983.59" y="627.8" width="1.4" height="25.5" fill="#df4259"/>
<rect x="981.59" y="633.1" width="5.4" height="15.1" fill="#f23645"/>
<rect x="991.38" y="607.4" width="1.4" height="43.1" fill="#1b9279"/>
<rect x="989.38" y="640.6" width="5.4" height="7.0" fill="#089981"/>
<rect x="999.17" y="636.3" width="1.4" height="27.0" fill="#df4259"/>
<rect x="997.17" y="641.0" width="5.4" height="4.2" fill="#f23645"/>
<rect x="1006.97" y="621.2" width="1.4" height="24.0" fill="#1b9279"/>
<rect x="1004.97" y="627.8" width="5.4" height="17.4" fill="#089981"/>
<path d="M41.3,38.1L43.0,40.1L41.3,42.1L39.6,40.1ZM49.1,66.0L50.8,68.0L49.1,70.0L47.4,68.0ZM56.9,91.0L58.6,93.0L56.9,95.0L55.2,93.0ZM64.7,113.9L66.4,115.9L64.7,117.9L63.0,115.9ZM72.5,134.5L74.2,136.5L72.5,138.5L70.8,136.5ZM80.3,152.5L82.0,154.5L80.3,156.5L78.6,154.5ZM88.1,173.6L89.8,175.6L88.1,177.6L86.4,175.6ZM95.9,326.6L97.6,328.6L95.9,330.6L94.2,328.6ZM103.7,323.4L105.4,325.4L103.7,327.4L102.0,325.4ZM111.5,319.8L113.2,321.8L111.5,323.8L109.8,321.8ZM119.3,316.7L121.0,318.7L119.3,320.7L117.6,318.7ZM127.1,313.5L128.8,315.5L127.1,317.5L125.4,315.5ZM134.9,310.4L136.6,312.4L134.9,314.4L133.2,312.4ZM142.6,307.7L144.3,309.7L142.6,311.7L140.9,309.7ZM150.4,304.5L152.1,306.5L150.4,308.5L148.7,306.5ZM158.2,302.0L159.9,304.0L158.2,306.0L156.5,304.0ZM166.0,162.0L167.7,164.0L166.0,166.0L164.3,164.0ZM173.8,165.4L175.5,167.4L173.8,169.4L172.1,167.4ZM181.6,168.3L183.3,170.3L181.6,172.3L179.9,170.3ZM189.4,173.9L191.1,175.9L189.4,177.9L187.7,175.9ZM197.2,186.2L198.9,188.2L197.2,190.2L195.5,188.2ZM205.0,197.0L206.7,199.0L205.0,201.0L203.3,199.0ZM212.8,210.8L214.5,212.8L212.8,214.8L211.1,212.8ZM220.6,232.0L222.3,234.0L220.6,236.0L218.9,234.0ZM228.4,250.5L230.1,252.5L228.4,254.5L226.7,252.5ZM236.2,267.5L237.9,269.5L236.2,271.5L234.5,269.5ZM244.0,282.1L245.7,284.1L244.0,286.1L242.3,284.1ZM251.7,295.3L253.4,297.3L251.7,299.3L250.0,297.3ZM259.5,299.8L261.2,301.8L259.5,303.8L257.8,301.8ZM267.3,312.0L269.0,314.0L267.3,316.0L265.6,314.0ZM275.1,322.6L276.8,324.6L275.1,326.6L273.4,324.6ZM282.9,331.8L284.6,333.8L282.9,335.8L281.2,333.8ZM290.7,340.2L292.4,342.2L290.7,344.2L289.0,342.2ZM298.5,348.2L300.2,350.2L298.5,352.2L296.8,350.2ZM306.3,354.8L308.0,356.8L306.3,358.8L304.6,356.8ZM314.1,356.6L315.8,358.6L314.1,360.6L312.4,358.6ZM321.9,447.2L323.6,449.2L321.9,451.2L320.2,449.2ZM329.7,447.2L331.4,449.2L329.7,451.2L328.0,449.2ZM337.5,439.2L339.2,441.2L337.5,443.2L335.8,441.2ZM345.3,430.5L347.0,432.5L345.3,434.5L343.6,432.5ZM353.1,414.0L354.8,416.0L353.1,418.0L351.4,416.0ZM360.8,393.4L362.5,395.4L360.8,397.4L359.1,395.4ZM368.6,367.8L370.3,369.8L368.6,371.8L366.9,369.8ZM376.4,344.6L378.1,346.6L376.4,348.6L374.7,346.6ZM384.2,324.3L385.9,326.3L384.2,328.3L382.5,326.3ZM392.0,305.5L393.7,307.5L392.0,309.5L390.3,307.5ZM399.8,137.5L401.5,139.5L399.8,141.5L398.1,139.5ZM407.6,141.0L409.3,143.0L407.6,145.0L405.9,143.0ZM415.4,147.5L417.1,149.5L415.4,151.5L413.7,149.5ZM423.2,153.8L424.9,155.8L423.2,157.8L421.5,155.8ZM431.0,160.1L432.7,162.1L431.0,164.1L429.3,162.1ZM438.8,165.5L440.5,167.5L438.8,169.5L437.1,167.5ZM446.6,171.2L448.3,173.2L446.6,175.2L444.9,173.2ZM454.4,176.3L456.1,178.3L454.4,180.3L452.7,178.3ZM462.2,185.5L463.9,187.5L462.2,189.5L460.5,187.5ZM470.0,203.8L471.7,205.8L470.0,207.8L468.3,205.8ZM477.7,220.4L479.4,222.4L477.7,224.4L476.0,222.4ZM485.5,239.5L487.2,241.5L485.5,243.5L483.8,241.5ZM493.3,257.1L495.0,259.1L493.3,261.1L491.6,259.1ZM501.1,273.0L502.8,275.0L501.1,277.0L499.4,275.0ZM508.9,287.4L510.6,289.4L508.9,291.4L507.2,289.4ZM516.7,305.0L518.4,307.0L516.7,309.0L515.0,307.0ZM524.5,321.0L526.2,323.0L524.5,325.0L522.8,323.0ZM532.3,334.8L534.0,336.8L532.3,338.8L530.6,336.8ZM540.1,346.5L541.8,348.5L540.1,350.5L538.4,348.5ZM547.9,359.7L549.6,361.7L547.9,363.7L546.2,361.7ZM555.7,378.6L557.4,380.6L555.7,382.6L554.0,380.6ZM563.5,419.8L565.2,421.8L563.5,423.8L561.8,421.8ZM571.3,449.5L573.0,451.5L571.3,453.5L569.6,451.5ZM579.1,478.8L580.8,480.8L579.1,482.8L577.4,480.8ZM586.8,611.2L588.5,613.2L586.8,615.2L585.1,613.2ZM594.6,489.6L596.3,491.6L594.6,493.6L592.9,491.6ZM602.4,493.3L604.1,495.3L602.4,497.3L600.7,495.3ZM610.2,502.5L611.9,504.5L610.2,506.5L608.5,504.5ZM618.0,511.6L619.7,513.6L618.0,515.6L616.3,513.6ZM625.8,520.1L627.5,522.1L625.8,524.1L624.1,522.1ZM633.6,528.2L635.3,530.2L633.6,532.2L631.9,530.2ZM641.4,536.1L643.1,538.1L641.4,540.1L639.7,538.1ZM649.2,543.6L650.9,545.6L649.2,547.6L647.5,545.6ZM657.0,550.4L658.7,552.4L657.0,554.4L655.3,552.4ZM664.8,722.3L666.5,724.3L664.8,726.3L663.1,724.3ZM672.6,717.2L674.3,719.2L672.6,721.2L670.9,719.2ZM680.4,706.2L682.1,708.2L680.4,710.2L678.7,708.2ZM688.2,695.4L689.9,697.4L688.2,699.4L686.5,697.4ZM695.9,685.1L697.6,687.1L695.9,689.1L694.2,687.1ZM703.7,675.3L705.4,677.3L703.7,679.3L702.0,677.3ZM711.5,665.3L713.2,667.3L711.5,669.3L709.8,667.3ZM719.3,656.4L721.0,658.4L719.3,660.4L717.6,658.4ZM727.1,647.4L728.8,649.4L727.1,651.4L725.4,649.4ZM734.9,638.9L736.6,640.9L734.9,642.9L733.2,640.9ZM742.7,435.6L744.4,437.6L742.7,439.6L741.0,437.6ZM750.5,439.8L752.2,441.8L750.5,443.8L748.8,441.8ZM758.3,444.4L760.0,446.4L758.3,448.4L756.6,446.4ZM766.1,448.3L767.8,450.3L766.1,452.3L764.4,450.3ZM773.9,452.5L775.6,454.5L773.9,456.5L772.2,454.5ZM781.7,460.9L783.4,462.9L781.7,464.9L780.0,462.9ZM789.5,468.8L791.2,470.8L789.5,472.8L787.8,470.8ZM797.3,476.3L799.0,478.3L797.3,480.3L795.6,478.3ZM805.0,487.4L806.7,489.4L805.0,491.4L803.3,489.4ZM812.8,498.3L814.5,500.3L812.8,502.3L811.1,500.3ZM820.6,508.8L822.3,510.8L820.6,512.8L818.9,510.8ZM828.4,517.5L830.1,519.5L828.4,521.5L826.7,519.5ZM836.2,526.9L837.9,528.9L836.2,530.9L834.5,528.9ZM844.0,538.2L845.7,540.2L844.0,542.2L842.3,540.2ZM851.8,549.1L853.5,551.1L851.8,553.1L850.1,551.1ZM859.6,558.8L861.3,560.8L859.6,562.8L857.9,560.8ZM867.4,566.2L869.1,568.2L867.4,570.2L865.7,568.2ZM875.2,672.1L876.9,674.1L875.2,676.1L873.5,674.1ZM883.0,669.6L884.7,671.6L883.0,673.6L881.3,671.6ZM890.8,667.4L892.5,669.4L890.8,671.4L889.1,669.4ZM898.6,665.1L900.3,667.1L898.6,669.1L896.9,667.1ZM906.4,659.8L908.1,661.8L906.4,663.8L904.7,661.8ZM914.2,652.6L915.9,654.6L914.2,656.6L912.5,654.6ZM921.9,645.1L923.6,647.1L921.9,649.1L920.2,647.1ZM929.7,638.6L931.4,640.6L929.7,642.6L928.0,640.6ZM937.5,535.4L939.2,537.4L937.5,539.4L935.8,537.4ZM945.3,537.4L947.0,539.4L945.3,541.4L943.6,539.4ZM953.1,542.2L954.8,544.2L953.1,546.2L951.4,544.2ZM960.9,546.9L962.6,548.9L960.9,550.9L959.2,548.9ZM968.7,550.7L970.4,552.7L968.7,554.7L967.0,552.7ZM976.5,554.9L978.2,556.9L976.5,558.9L974.8,556.9ZM984.3,558.7L986.0,560.7L984.3,562.7L982.6,560.7ZM992.1,562.4L993.8,564.4L992.1,566.4L990.4,564.4ZM999.9,566.2L1001.6,568.2L999.9,570.2L998.2,568.2ZM1007.7,571.9L1009.4,573.9L1007.7,575.9L1006.0,573.9Z" fill="#4255b6"/>
</g>
<g fill="#d43a5c"><circle cx="532.4" cy="362.6" r="1.35"/><circle cx="538.5" cy="365.8" r="1.35"/><circle cx="544.5" cy="368.9" r="1.35"/><circle cx="550.6" cy="372.1" r="1.35"/><circle cx="556.6" cy="375.3" r="1.35"/><circle cx="562.7" cy="378.4" r="1.35"/><circle cx="568.8" cy="381.6" r="1.35"/><circle cx="574.8" cy="384.8" r="1.35"/><circle cx="580.9" cy="387.9" r="1.35"/><circle cx="586.9" cy="391.1" r="1.35"/><circle cx="593.0" cy="394.2" r="1.35"/><circle cx="599.0" cy="397.4" r="1.35"/><circle cx="605.1" cy="400.6" r="1.35"/><circle cx="611.2" cy="403.7" r="1.35"/><circle cx="617.2" cy="406.9" r="1.35"/><circle cx="623.3" cy="410.1" r="1.35"/><circle cx="629.3" cy="413.2" r="1.35"/><circle cx="635.4" cy="416.4" r="1.35"/><circle cx="641.4" cy="419.6" r="1.35"/><circle cx="647.5" cy="422.7" r="1.35"/><circle cx="653.6" cy="425.9" r="1.35"/><circle cx="659.6" cy="429.1" r="1.35"/><circle cx="665.7" cy="432.2" r="1.35"/><circle cx="671.7" cy="435.4" r="1.35"/><circle cx="677.8" cy="438.5" r="1.35"/><circle cx="683.9" cy="441.7" r="1.35"/><circle cx="689.9" cy="444.9" r="1.35"/><circle cx="696.0" cy="448.0" r="1.35"/><circle cx="702.0" cy="451.2" r="1.35"/><circle cx="708.1" cy="454.4" r="1.35"/><circle cx="714.1" cy="457.5" r="1.35"/><circle cx="720.2" cy="460.7" r="1.35"/><circle cx="726.3" cy="463.9" r="1.35"/><circle cx="732.3" cy="467.0" r="1.35"/><circle cx="738.4" cy="470.2" r="1.35"/><circle cx="744.4" cy="473.4" r="1.35"/><circle cx="750.5" cy="476.5" r="1.35"/><circle cx="756.6" cy="479.7" r="1.35"/><circle cx="762.6" cy="482.8" r="1.35"/><circle cx="768.7" cy="486.0" r="1.35"/><circle cx="774.7" cy="489.2" r="1.35"/><circle cx="780.8" cy="492.3" r="1.35"/><circle cx="786.8" cy="495.5" r="1.35"/><circle cx="792.9" cy="498.7" r="1.35"/><circle cx="799.0" cy="501.8" r="1.35"/><circle cx="805.0" cy="505.0" r="1.35"/><circle cx="811.1" cy="508.2" r="1.35"/><circle cx="817.1" cy="511.3" r="1.35"/><circle cx="823.2" cy="514.5" r="1.35"/><circle cx="829.3" cy="517.6" r="1.35"/><circle cx="835.3" cy="520.8" r="1.35"/><circle cx="841.4" cy="524.0" r="1.35"/><circle cx="847.4" cy="527.1" r="1.35"/><circle cx="853.5" cy="530.3" r="1.35"/><circle cx="859.5" cy="533.5" r="1.35"/><circle cx="865.6" cy="536.6" r="1.35"/><circle cx="871.7" cy="539.8" r="1.35"/><circle cx="877.7" cy="543.0" r="1.35"/><circle cx="883.8" cy="546.1" r="1.35"/><circle cx="889.8" cy="549.3" r="1.35"/><circle cx="895.9" cy="552.5" r="1.35"/><circle cx="902.0" cy="555.6" r="1.35"/><circle cx="908.0" cy="558.8" r="1.35"/><circle cx="914.1" cy="562.0" r="1.35"/><circle cx="920.1" cy="565.1" r="1.35"/><circle cx="926.2" cy="568.3" r="1.35"/><circle cx="932.2" cy="571.4" r="1.35"/><circle cx="938.3" cy="574.6" r="1.35"/><circle cx="944.4" cy="577.8" r="1.35"/><circle cx="950.4" cy="580.9" r="1.35"/><circle cx="956.5" cy="584.1" r="1.35"/><circle cx="962.5" cy="587.3" r="1.35"/><circle cx="968.6" cy="590.4" r="1.35"/><circle cx="974.7" cy="593.6" r="1.35"/><circle cx="980.7" cy="596.8" r="1.35"/><circle cx="986.8" cy="599.9" r="1.35"/><circle cx="992.8" cy="603.1" r="1.35"/><circle cx="998.9" cy="606.2" r="1.35"/><circle cx="1005.0" cy="609.4" r="1.35"/><circle cx="1011.0" cy="612.6" r="1.35"/><circle cx="1017.1" cy="615.7" r="1.35"/><circle cx="1023.1" cy="618.9" r="1.35"/><circle cx="1029.2" cy="622.1" r="1.35"/><circle cx="1035.2" cy="625.2" r="1.35"/><circle cx="1041.3" cy="628.4" r="1.35"/></g>
<g fill="#d43a5c"><circle cx="603.1" cy="723.9" r="1.35"/><circle cx="609.8" cy="722.5" r="1.35"/><circle cx="616.5" cy="721.2" r="1.35"/><circle cx="623.2" cy="719.8" r="1.35"/><circle cx="629.9" cy="718.4" r="1.35"/><circle cx="636.6" cy="717.0" r="1.35"/><circle cx="643.3" cy="715.7" r="1.35"/><circle cx="649.9" cy="714.3" r="1.35"/><circle cx="656.6" cy="712.9" r="1.35"/><circle cx="663.3" cy="711.5" r="1.35"/><circle cx="670.0" cy="710.2" r="1.35"/><circle cx="676.7" cy="708.8" r="1.35"/><circle cx="683.4" cy="707.4" r="1.35"/><circle cx="690.1" cy="706.0" r="1.35"/><circle cx="696.8" cy="704.7" r="1.35"/><circle cx="703.5" cy="703.3" r="1.35"/><circle cx="710.2" cy="701.9" r="1.35"/><circle cx="716.9" cy="700.5" r="1.35"/><circle cx="723.6" cy="699.2" r="1.35"/><circle cx="730.3" cy="697.8" r="1.35"/><circle cx="736.9" cy="696.4" r="1.35"/><circle cx="743.6" cy="695.0" r="1.35"/><circle cx="750.3" cy="693.7" r="1.35"/><circle cx="757.0" cy="692.3" r="1.35"/><circle cx="763.7" cy="690.9" r="1.35"/><circle cx="770.4" cy="689.5" r="1.35"/><circle cx="777.1" cy="688.2" r="1.35"/><circle cx="783.8" cy="686.8" r="1.35"/><circle cx="790.5" cy="685.4" r="1.35"/><circle cx="797.2" cy="684.0" r="1.35"/><circle cx="803.9" cy="682.7" r="1.35"/><circle cx="810.6" cy="681.3" r="1.35"/><circle cx="817.3" cy="679.9" r="1.35"/><circle cx="824.0" cy="678.5" r="1.35"/><circle cx="830.6" cy="677.2" r="1.35"/><circle cx="837.3" cy="675.8" r="1.35"/><circle cx="844.0" cy="674.4" r="1.35"/><circle cx="850.7" cy="673.1" r="1.35"/><circle cx="857.4" cy="671.7" r="1.35"/><circle cx="864.1" cy="670.3" r="1.35"/><circle cx="870.8" cy="668.9" r="1.35"/><circle cx="877.5" cy="667.6" r="1.35"/><circle cx="884.2" cy="666.2" r="1.35"/><circle cx="890.9" cy="664.8" r="1.35"/><circle cx="897.6" cy="663.4" r="1.35"/><circle cx="904.3" cy="662.1" r="1.35"/><circle cx="911.0" cy="660.7" r="1.35"/><circle cx="917.6" cy="659.3" r="1.35"/><circle cx="924.3" cy="657.9" r="1.35"/><circle cx="931.0" cy="656.6" r="1.35"/><circle cx="937.7" cy="655.2" r="1.35"/><circle cx="944.4" cy="653.8" r="1.35"/><circle cx="951.1" cy="652.4" r="1.35"/><circle cx="957.8" cy="651.1" r="1.35"/><circle cx="964.5" cy="649.7" r="1.35"/><circle cx="971.2" cy="648.3" r="1.35"/><circle cx="977.9" cy="646.9" r="1.35"/><circle cx="984.6" cy="645.6" r="1.35"/><circle cx="991.3" cy="644.2" r="1.35"/><circle cx="998.0" cy="642.8" r="1.35"/><circle cx="1004.6" cy="641.4" r="1.35"/><circle cx="1011.3" cy="640.1" r="1.35"/><circle cx="1018.0" cy="638.7" r="1.35"/><circle cx="1024.7" cy="637.3" r="1.35"/><circle cx="1031.4" cy="635.9" r="1.35"/><circle cx="1038.1" cy="634.6" r="1.35"/><circle cx="1044.8" cy="633.2" r="1.35"/></g>
<path d="M12,627.4H1078" stroke="#2a7d6c" stroke-width="1" stroke-dasharray="1.6 1.9" fill="none"/>
<text x="20.7" y="53.3" font-size="13.5" fill="#131722" stroke="#131722" stroke-width="0.25" textLength="232" lengthAdjust="spacingAndGlyphs">Dogecoin / US Dollar · 1D · Coinbase</text>
<text x="261.1" y="53.3" font-size="13.5" fill="#131722" stroke="#131722" stroke-width="0.25">O</text>
<text x="271.6" y="53.3" font-size="13.5" fill="#089981" stroke="#089981" stroke-width="0.25" textLength="54.4" lengthAdjust="spacingAndGlyphs">0.09037</text>
<text x="333.9" y="53.3" font-size="13.5" fill="#131722" stroke="#131722" stroke-width="0.25">H</text>
<text x="344.4" y="53.3" font-size="13.5" fill="#089981" stroke="#089981" stroke-width="0.25" textLength="53.9" lengthAdjust="spacingAndGlyphs">0.09358</text>
<text x="406.3" y="53.3" font-size="13.5" fill="#131722" stroke="#131722" stroke-width="0.25">L</text>
<text x="413.4" y="53.3" font-size="13.5" fill="#089981" stroke="#089981" stroke-width="0.25" textLength="52.5" lengthAdjust="spacingAndGlyphs">0.09018</text>
<text x="474.4" y="53.3" font-size="13.5" fill="#131722" stroke="#131722" stroke-width="0.25">C</text>
<text x="483.9" y="53.3" font-size="13.5" fill="#089981" stroke="#089981" stroke-width="0.25" textLength="54.5" lengthAdjust="spacingAndGlyphs">0.09264</text>
<text x="546.2" y="53.3" font-size="13.5" fill="#089981" stroke="#089981" stroke-width="0.25" textLength="62" lengthAdjust="spacingAndGlyphs">+0.00229</text>
<text x="613.3" y="53.3" font-size="13.5" fill="#089981" stroke="#089981" stroke-width="0.25" textLength="59" lengthAdjust="spacingAndGlyphs">(+2.53%)</text>
<text x="20.7" y="72.8" font-size="13.5" fill="#131722" stroke="#131722" stroke-width="0.25" textLength="143.5" lengthAdjust="spacingAndGlyphs">BB (20, SMA, close, 2)</text>
<text x="173" y="72.8" font-size="13.5" fill="#2962ff" stroke="#2962ff" stroke-width="0.25" textLength="54.5" lengthAdjust="spacingAndGlyphs">0.09430</text>
<text x="235.9" y="72.8" font-size="13.5" fill="#f23645" stroke="#f23645" stroke-width="0.25" textLength="51.9" lengthAdjust="spacingAndGlyphs">0.10085</text>
<text x="296" y="72.8" font-size="13.5" fill="#089981" stroke="#089981" stroke-width="0.25" textLength="52.2" lengthAdjust="spacingAndGlyphs">0.08775</text>
<text x="20.7" y="92.1" font-size="13.5" fill="#131722" stroke="#131722" stroke-width="0.25" textLength="132.5" lengthAdjust="spacingAndGlyphs">SAR (0.02, 0.02, 0.2)</text>
<text x="162.5" y="92.1" font-size="13.5" fill="#2962ff" stroke="#2962ff" stroke-width="0.25" textLength="52.5" lengthAdjust="spacingAndGlyphs">0.09970</text>
<rect x="1159" y="35.8" width="77.4" height="28.3" rx="5" fill="#ffffff" stroke="#efefef"/>
<text x="1170.2" y="54.7" font-size="13.8" fill="#131722" stroke="#131722" stroke-width="0.1">USD</text>
<text x="1165.8" y="81.2" font-size="14.5" fill="#1e222d" textLength="54.6" lengthAdjust="spacing">0.16500</text>
<text x="1165.8" y="119.3" font-size="14.5" fill="#1e222d" textLength="54.6" lengthAdjust="spacing">0.16000</text>
<text x="1165.8" y="157.4" font-size="14.5" fill="#1e222d" textLength="54.6" lengthAdjust="spacing">0.15500</text>
<text x="1165.8" y="195.5" font-size="14.5" fill="#1e222d" textLength="54.6" lengthAdjust="spacing">0.15000</text>
<text x="1165.8" y="233.6" font-size="14.5" fill="#1e222d" textLength="54.6" lengthAdjust="spacing">0.14500</text>
<text x="1165.8" y="271.7" font-size="14.5" fill="#1e222d" textLength="54.6" lengthAdjust="spacing">0.14000</text>
<text x="1165.8" y="309.8" font-size="14.5" fill="#1e222d" textLength="54.6" lengthAdjust="spacing">0.13500</text>
<text x="1165.8" y="347.9" font-size="14.5" fill="#1e222d" textLength="54.6" lengthAdjust="spacing">0.13000</text>
<text x="1165.8" y="386.0" font-size="14.5" fill="#1e222d" textLength="54.6" lengthAdjust="spacing">0.12500</text>
<text x="1165.8" y="424.1" font-size="14.5" fill="#1e222d" textLength="54.6" lengthAdjust="spacing">0.12000</text>
<text x="1165.8" y="462.2" font-size="14.5" fill="#1e222d" textLength="54.6" lengthAdjust="spacing">0.11500</text>
<text x="1165.8" y="500.3" font-size="14.5" fill="#1e222d" textLength="54.6" lengthAdjust="spacing">0.11000</text>
<text x="1165.8" y="538.4" font-size="14.5" fill="#1e222d" textLength="54.6" lengthAdjust="spacing">0.10500</text>
<text x="1165.8" y="576.5" font-size="14.5" fill="#1e222d" textLength="54.6" lengthAdjust="spacing">0.10000</text>
<text x="1165.8" y="614.6" font-size="14.5" fill="#1e222d" textLength="54.6" lengthAdjust="spacing">0.09500</text>
<text x="1165.8" y="652.7" font-size="14.5" fill="#1e222d" textLength="54.6" lengthAdjust="spacing">0.09000</text>
<text x="1165.8" y="690.8" font-size="14.5" fill="#1e222d" textLength="54.6" lengthAdjust="spacing">0.08500</text>
<text x="1165.8" y="728.9" font-size="14.5" fill="#1e222d" textLength="54.6" lengthAdjust="spacing">0.08000</text>
<text x="1165.8" y="767.0" font-size="14.5" fill="#1e222d" textLength="54.6" lengthAdjust="spacing">0.07500</text>
<text x="1165.8" y="805.1" font-size="14.5" fill="#1e222d" textLength="54.6" lengthAdjust="spacing">0.07000</text>
<text x="1165.8" y="843.2" font-size="14.5" fill="#1e222d" textLength="54.6" lengthAdjust="spacing">0.06500</text>
<rect x="1156" y="544.9" width="70.6" height="19.0" rx="2.5" fill="#f23645"/>
<text x="1165.8" y="559.4" font-size="13.5" fill="#ffffff" stroke="#ffffff" stroke-width="0.1" textLength="54.5" lengthAdjust="spacingAndGlyphs">0.10085</text>
<rect x="1156" y="564.7" width="70.6" height="18.7" rx="2.5" fill="#2962ff"/>
<text x="1165.8" y="579.0" font-size="13.5" fill="#ffffff" stroke="#ffffff" stroke-width="0.1" textLength="54.5" lengthAdjust="spacingAndGlyphs">0.09970</text>
<rect x="1156" y="598.7" width="70.6" height="18.5" rx="2.5" fill="#2962ff"/>
<text x="1165.8" y="613.0" font-size="13.5" fill="#ffffff" stroke="#ffffff" stroke-width="0.1" textLength="54.5" lengthAdjust="spacingAndGlyphs">0.09430</text>
<rect x="1077.9" y="618" width="76.9" height="18.7" rx="2.5" fill="#089981"/>
<text x="1083.7" y="632.4" font-size="13.5" fill="#ffffff" stroke="#ffffff" stroke-width="0.1" textLength="66.3" lengthAdjust="spacingAndGlyphs">DOGEUSD</text>
<rect x="1156" y="618" width="75.1" height="18.7" rx="2.5" fill="#089981"/>
<text x="1166.7" y="632.4" font-size="13.5" fill="#ffffff" stroke="#ffffff" stroke-width="0.1" textLength="58" lengthAdjust="spacingAndGlyphs">17:14:09</text>
<rect x="1156" y="655.3" width="70.6" height="19.1" rx="2.5" fill="#089981"/>
<text x="1165.8" y="669.8" font-size="13.5" fill="#ffffff" stroke="#ffffff" stroke-width="0.1" textLength="54.5" lengthAdjust="spacingAndGlyphs">0.08775</text>
<text x="67.9" y="874" font-size="13.8" fill="#131722" textLength="25" lengthAdjust="spacingAndGlyphs">Dec</text>
<text x="304.3" y="874" font-size="13.8" fill="#131722" textLength="35.8" lengthAdjust="spacingAndGlyphs" font-weight="700">2026</text>
<text x="551" y="874" font-size="13.8" fill="#131722" textLength="24.4" lengthAdjust="spacingAndGlyphs">Feb</text>
<text x="769.6" y="874" font-size="13.8" fill="#131722" textLength="24.4" lengthAdjust="spacingAndGlyphs">Mar</text>
<text x="1012" y="874" font-size="13.8" fill="#131722" textLength="23.2" lengthAdjust="spacingAndGlyphs">Apr</text>
<path d="M13.8,909H28.1V925.6H20.2V915.8H13.8Z" fill="#000"/>
<circle cx="32.9" cy="912.6" r="3.3" fill="#000"/>
<path d="M39.3,909H47.3L42.3,925.6H32.9Z" fill="#000"/>
<text x="55.8" y="925.6" font-size="23" fill="#131722" textLength="137.5" lengthAdjust="spacingAndGlyphs" font-weight="700">TradingView</text>
</svg></body></html>
